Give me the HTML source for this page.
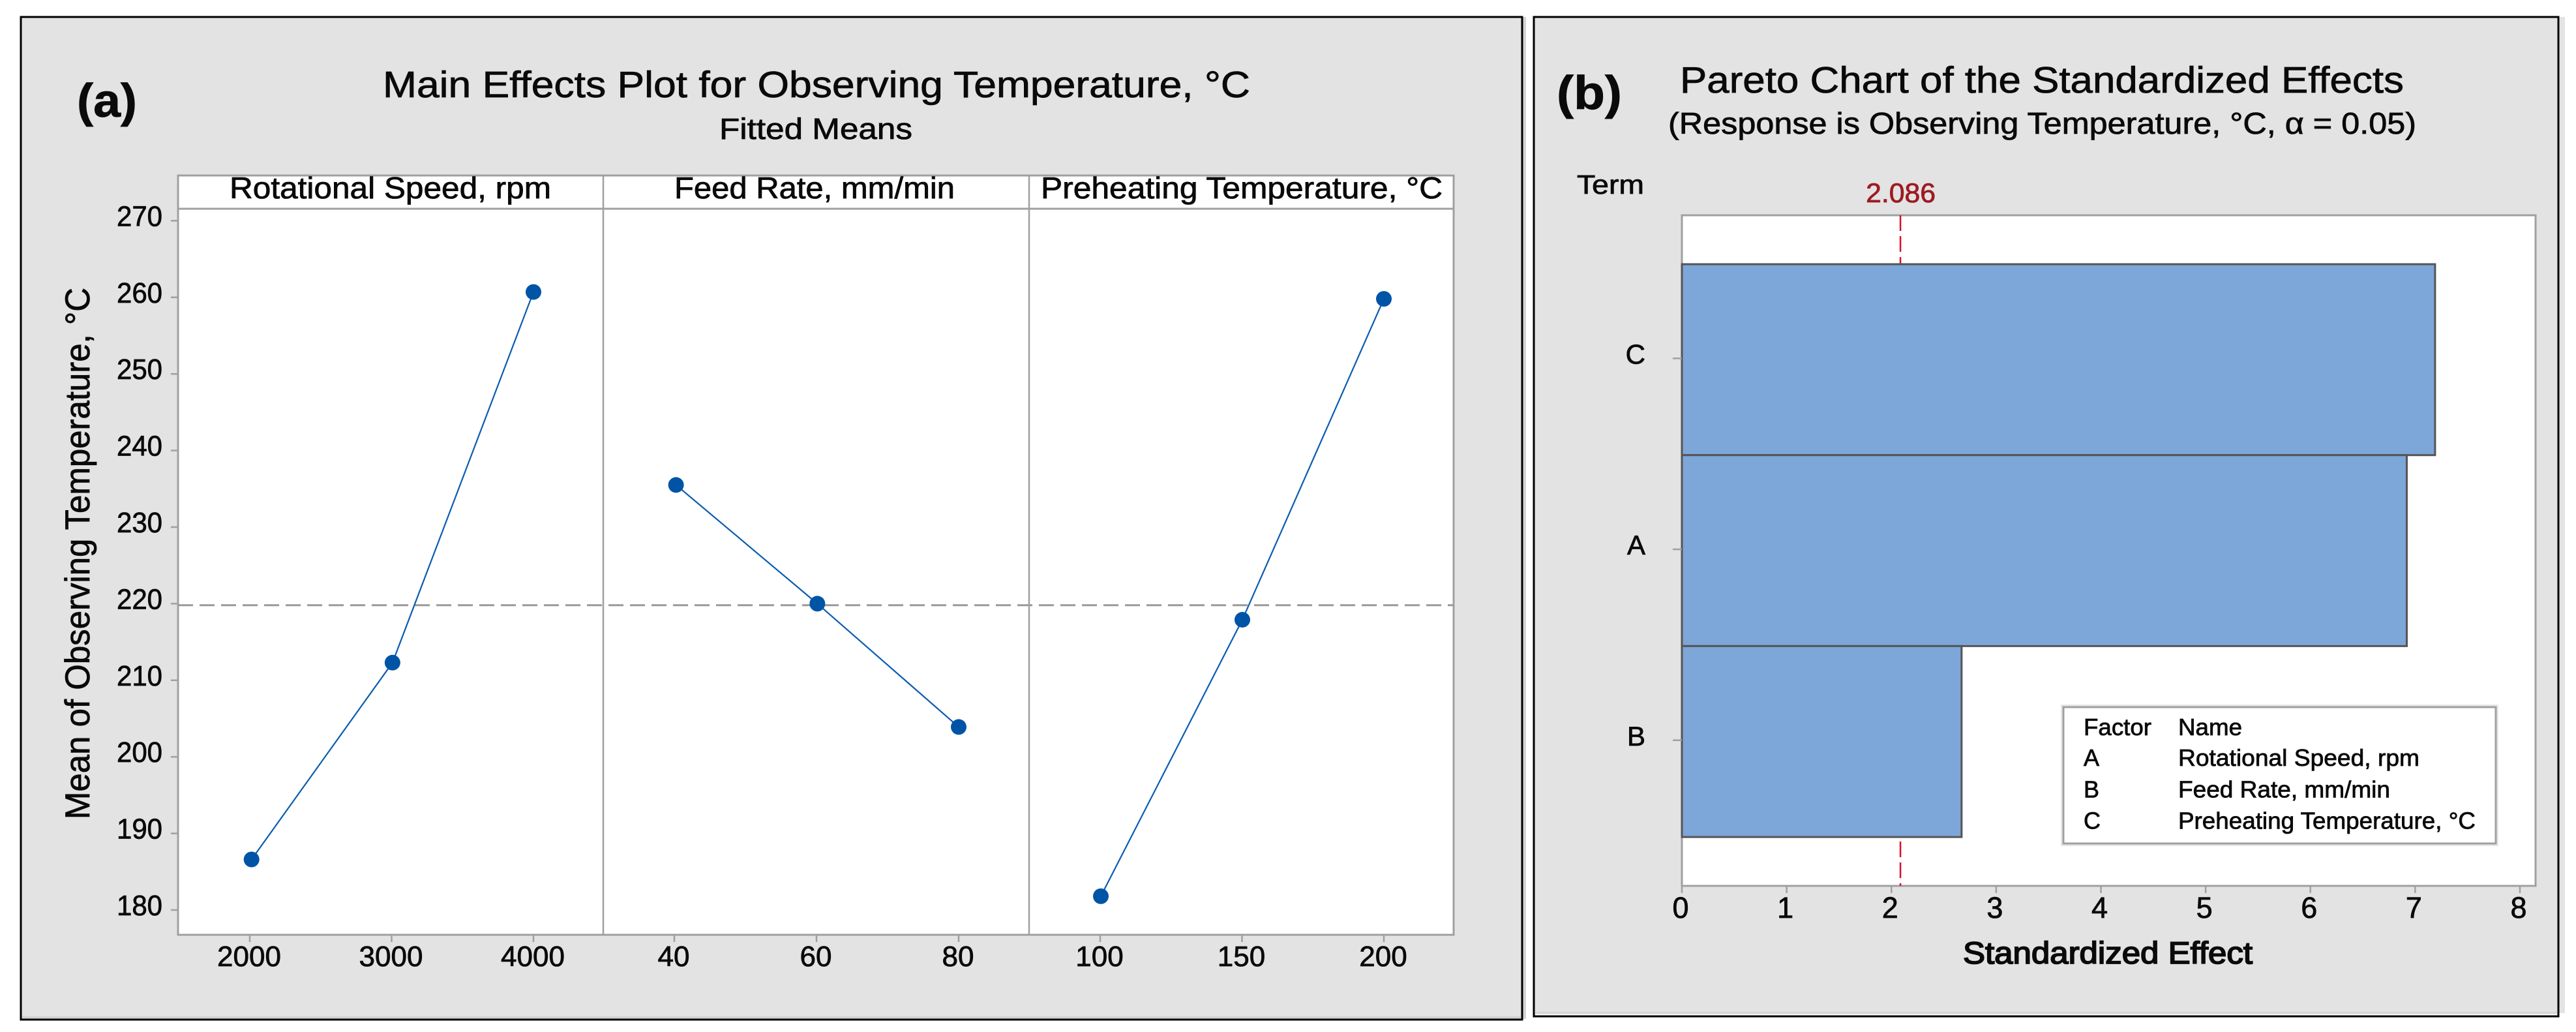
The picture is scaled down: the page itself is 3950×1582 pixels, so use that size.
<!DOCTYPE html>
<html lang="en">
<head>
<meta charset="utf-8">
<title>Main Effects Plot and Pareto Chart</title>
<style>
html,body{margin:0;padding:0;background:#fff;}
svg{display:block;}
text{font-family:"Liberation Sans",Arial,sans-serif;fill:#0a0a0a;stroke:#0a0a0a;stroke-width:0.8px;}
</style>
</head>
<body>
<svg id="figure" xmlns="http://www.w3.org/2000/svg" width="3950" height="1582" viewBox="0 0 3950 1582">
  <rect x="0" y="0" width="3950" height="1582" fill="#ffffff"/>

  <!-- Panel a frame -->
  <rect x="2334" y="26" width="6" height="1536" fill="#d4d4d4"/>
  <rect x="32" y="26" width="2302" height="1537" fill="#e3e3e3" stroke="#000000" stroke-width="3"/>
  <rect x="34" y="1558" width="2298" height="3.5" fill="#d2d2d2"/>

  <!-- Panel b frame -->
  <rect x="3924" y="26" width="9" height="1527" fill="#e3e3e3"/>
  <rect x="2352" y="26" width="1571" height="1532" fill="#e3e3e3" stroke="#000000" stroke-width="3"/>
  <rect x="2354" y="1554" width="1567" height="2.5" fill="#f6f6f6"/>
  <rect x="2354" y="1551.5" width="1567" height="2.5" fill="#d2d2d2"/>

  <!-- Panel a text -->
  <text x="118" y="179" font-size="72" font-weight="700" textLength="92" lengthAdjust="spacingAndGlyphs">(a)</text>
  <text x="587" y="149" font-size="57" textLength="1330" lengthAdjust="spacingAndGlyphs">Main Effects Plot for Observing Temperature, °C</text>
  <text x="1103" y="213" font-size="45" textLength="296" lengthAdjust="spacingAndGlyphs">Fitted Means</text>
  <text transform="translate(137,1256) rotate(-90)" x="0" y="0" font-size="53" textLength="815" lengthAdjust="spacingAndGlyphs">Mean of Observing Temperature, °C</text>

  <!-- Panel b text -->
  <text x="2387" y="167" font-size="72" font-weight="700" textLength="100" lengthAdjust="spacingAndGlyphs">(b)</text>
  <text x="2576" y="142" font-size="57" textLength="1110" lengthAdjust="spacingAndGlyphs">Pareto Chart of the Standardized Effects</text>
  <text x="2558" y="205" font-size="46" textLength="1147" lengthAdjust="spacingAndGlyphs">(Response is Observing Temperature, °C, α = 0.05)</text>
  <text x="2418" y="297" font-size="41" textLength="103" lengthAdjust="spacingAndGlyphs">Term</text>
  <text x="3010" y="1477" font-size="47" style="stroke-width:1.8px" textLength="444" lengthAdjust="spacingAndGlyphs">Standardized Effect</text>

  <g id="main-effects"></g>
  <g id="pareto"></g>
</svg>

<script>
// ---- Main effects data ----
const yTickValues = [180, 190, 200, 210, 220, 230, 240, 250, 260, 270];
const speedLevels = [2000, 3000, 4000];
const speedMeans = [186.6, 212.3, 260.7];
const feedLevels = [40, 60, 80];
const feedMeans = [235.5, 220.0, 203.9];
const preheatLevels = [100, 150, 200];
const preheatMeans = [181.8, 217.9, 259.8];
const grandMean = 219.8;
const factorTitles = ["Rotational Speed, rpm", "Feed Rate, mm/min", "Preheating Temperature, °C"];

// ---- Pareto data ----
const paretoTerms = ["C", "A", "B"];
const paretoEffects = [7.19, 6.92, 2.67];
const paretoTicks = [0, 1, 2, 3, 4, 5, 6, 7, 8];
const criticalValue = 2.086;
const legendFactors = ["A", "B", "C"];
const legendNames = ["Rotational Speed, rpm", "Feed Rate, mm/min", "Preheating Temperature, °C"];

const SVGNS = "http://www.w3.org/2000/svg";
function add(parent, tag, attrs, text) {
  const n = document.createElementNS(SVGNS, tag);
  for (const k in attrs) n.setAttribute(k, attrs[k]);
  if (text !== undefined) n.textContent = text;
  parent.appendChild(n);
  return n;
}
function linear(d0, d1, r0, r1) {
  return function (v) { return r0 + (v - d0) * (r1 - r0) / (d1 - d0); };
}

// ===== Main effects plot =====
const ma = document.getElementById("main-effects");
const axisGray = "#a0a0a0";
const blue = "#0054a6";
const yScale = linear(180, 270, 1395, 338.4);
const plotLeft = 273, plotRight = 2229, stripTop = 269, stripBottom = 320, plotBottom = 1433;

const plotBg = add(ma, "rect", {x: plotLeft, y: stripTop, width: plotRight - plotLeft, height: plotBottom - stripTop, fill: "#ffffff", stroke: axisGray, "stroke-width": 3});



const stripLine = add(ma, "line", {x1: plotLeft, x2: plotRight, y1: stripBottom, y2: stripBottom, stroke: axisGray, "stroke-width": 3});



const meanLine = add(ma, "line", {x1: plotLeft, x2: plotRight, y1: yScale(grandMean), y2: yScale(grandMean), stroke: "#999999", "stroke-width": 3, "stroke-dasharray": "23 10"});



[925, 1578].forEach(function (x) {
  const d = add(ma, "line", {x1: x, x2: x, y1: stripTop, y2: plotBottom, stroke: axisGray, "stroke-width": 2.5});
  
  
});

yTickValues.forEach(function (v) {
  const y = yScale(v);
  const t = add(ma, "line", {x1: 262, x2: plotLeft, y1: y, y2: y, stroke: axisGray, "stroke-width": 2.5});
  
  
  const l = add(ma, "text", {x: 249, y: y + 8, "font-size": 44, "text-anchor": "end", textLength: 70, lengthAdjust: "spacingAndGlyphs"}, String(v));
  
  
});

function drawFacet(key, title, titleX, titleLen, levels, means, markX0, markX1, tickX0, tickX1) {
  const first = levels[0], last = levels[levels.length - 1];
  const xMark = linear(first, last, markX0, markX1);
  const xTick = linear(first, last, tickX0, tickX1);

  const h = add(ma, "text", {x: titleX, y: 304, "font-size": 46, textLength: titleLen, lengthAdjust: "spacingAndGlyphs"}, title);
  
  

  levels.forEach(function (v) {
    const x = xTick(v);
    const t = add(ma, "line", {x1: x, x2: x, y1: plotBottom, y2: plotBottom + 11, stroke: axisGray, "stroke-width": 2.5});
    
    
    const l = add(ma, "text", {x: x - 1, y: 1481, "font-size": 44, "text-anchor": "middle"}, String(v));
    
    
  });

  const pts = levels.map(function (v, i) { return xMark(v) + "," + yScale(means[i]); }).join(" ");
  const line = add(ma, "polyline", {points: pts, fill: "none", stroke: "#0a5cb0", "stroke-width": 2.2});
  
  

  levels.forEach(function (v, i) {
    const c = add(ma, "circle", {cx: xMark(v), cy: yScale(means[i]), r: 12, fill: blue});
    
    
  });
}
drawFacet("rotational-speed", factorTitles[0], 352, 493, speedLevels, speedMeans, 385.7, 818, 383, 818);
drawFacet("feed-rate", factorTitles[1], 1034, 430, feedLevels, feedMeans, 1036.6, 1470, 1034, 1470);
drawFacet("preheating-temperature", factorTitles[2], 1596, 616, preheatLevels, preheatMeans, 1688, 2122, 1687, 2122);

// ===== Pareto chart =====
const pa = document.getElementById("pareto");
const xEffect = linear(0, 8, 2579, 3864);
const axTop = 330, axBottom = 1358, axLeft = 2579, axRight = 3888;
const barTop = 405, barStep = 292.7;

const pBg = add(pa, "rect", {x: axLeft, y: axTop, width: axRight - axLeft, height: axBottom - axTop, fill: "#ffffff", stroke: axisGray, "stroke-width": 3});



const crit = add(pa, "line", {x1: xEffect(criticalValue), x2: xEffect(criticalValue), y1: axTop, y2: axBottom, stroke: "#d8102a", "stroke-width": 2.5, "stroke-dasharray": "24 8"});



const critLabel = add(pa, "text", {x: xEffect(criticalValue) + 0.5, y: 310, "font-size": 42, "text-anchor": "middle", style: "fill:#9e1b22;stroke:#9e1b22", textLength: 107, lengthAdjust: "spacingAndGlyphs"}, criticalValue.toFixed(3));



paretoTerms.forEach(function (term, i) {
  const y = barTop + i * barStep;
  const bar = add(pa, "rect", {x: axLeft, y: y, width: xEffect(paretoEffects[i]) - axLeft, height: barStep, fill: "#7da6d9", stroke: "#555555", "stroke-width": 3});
  
  
  const cy = y + barStep / 2 - 2;
  const t = add(pa, "line", {x1: 2565, x2: axLeft, y1: cy, y2: cy, stroke: axisGray, "stroke-width": 2.5});
  
  
  const l = add(pa, "text", {x: 2523, y: cy + 8, "font-size": 42, "text-anchor": "end"}, term);
  
  
});

paretoTicks.forEach(function (v) {
  const x = xEffect(v);
  const t = add(pa, "line", {x1: x, x2: x, y1: axBottom, y2: axBottom + 11, stroke: axisGray, "stroke-width": 2.5});
  
  
  const l = add(pa, "text", {x: x - 2, y: 1407, "font-size": 45, "text-anchor": "middle"}, String(v));
  
  
});

// Legend
const legendShadow = add(pa, "rect", {x: 3160, y: 1080, width: 671, height: 217, fill: "#e6e6e6"});


const legendBox = add(pa, "rect", {x: 3164, y: 1084, width: 663, height: 209, fill: "#ffffff", stroke: axisGray, "stroke-width": 3});



const legendHeadF = add(pa, "text", {x: 3195, y: 1127, "font-size": 36, textLength: 104, lengthAdjust: "spacingAndGlyphs"}, "Factor");


const legendHeadN = add(pa, "text", {x: 3340, y: 1127, "font-size": 36, textLength: 98, lengthAdjust: "spacingAndGlyphs"}, "Name");



const legendLens = [370, 325, 456];
legendFactors.forEach(function (f, i) {
  const y = 1174 + i * 48.3;
  const a = add(pa, "text", {x: 3195, y: y, "font-size": 36}, f);
  
  
  const b = add(pa, "text", {x: 3340, y: y, "font-size": 36, textLength: legendLens[i], lengthAdjust: "spacingAndGlyphs"}, legendNames[i]);
  
  
});
</script>
</body>
</html>
